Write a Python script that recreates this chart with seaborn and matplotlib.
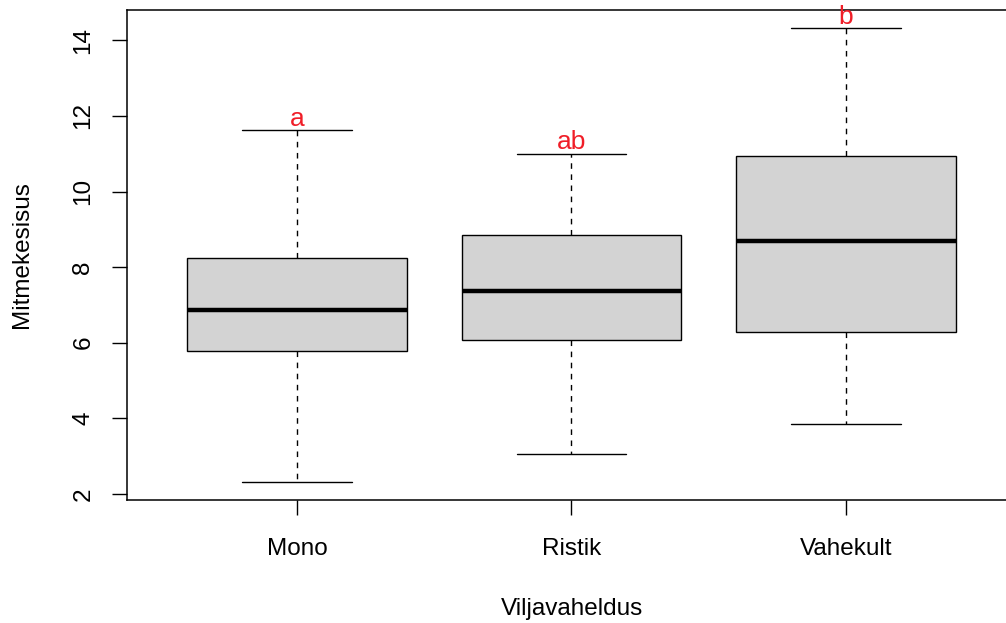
import numpy as np
import pandas as pd
import matplotlib
matplotlib.use("Agg")
import matplotlib.pyplot as plt
import seaborn as sns

# five-number summaries (min, Q1, median, Q3, max)
groups = ["Mono", "Ristik", "Vahekult"]
mono = [2.32, 5.79, 6.87, 8.25, 11.62]
ristik = [3.06, 6.08, 7.38, 8.86, 11.00]
vahekult = [3.85, 6.29, 8.70, 10.93, 14.32]
letters = ["a", "ab", "b"]
yticks = [2, 4, 6, 8, 10, 12, 14]

df = pd.DataFrame({
    "Viljavaheldus": np.repeat(groups, 5),
    "Mitmekesisus": mono + ristik + vahekult,
})

sns.set_theme(style="ticks")
plt.rcParams["font.family"] = ["Liberation Sans", "DejaVu Sans"]

fig = plt.figure(figsize=(10.06, 6.23), dpi=100)
ax = fig.add_axes([0.1262, 0.1974, 0.8837, 0.7865])

sns.boxplot(data=df, x="Viljavaheldus", y="Mitmekesisus", order=groups,
            color="#D3D3D3", saturation=1, linecolor="black", linewidth=1.0,
            width=0.8, whis=(0, 100), ax=ax,
            medianprops=dict(linewidth=3.2, color="black"),
            whiskerprops=dict(linestyle=(0, (4, 4)), linewidth=1.0, color="black"),
            capprops=dict(linewidth=1.0, color="black"))

# significance letters above the upper whiskers
tops = [max(mono), max(ristik), max(vahekult)]
for i, (lab, top) in enumerate(zip(letters, tops)):
    ax.text(i, top + 0.12, lab, ha="center", va="baseline", color="#F01E28",
            fontsize=19)

ax.set_xlim(-0.62, 2.62)
ax.set_ylim(1.84, 14.8)
ax.set_yticks(yticks)
ax.set_yticklabels([str(t) for t in yticks], rotation=90, va="center")

for sp in ax.spines.values():
    sp.set_visible(True)
    sp.set_color("black")
    sp.set_linewidth(1.1)

ax.tick_params(axis="both", length=11, width=1.0, labelsize=17.5,
               colors="black")
ax.tick_params(axis="x", pad=16.5)
ax.tick_params(axis="y", pad=12.5)
ax.set_xlabel("Viljavaheldus", fontsize=17.5, color="black")
ax.set_ylabel("Mitmekesisus", fontsize=17.5, color="black")
ax.xaxis.set_label_coords(0.5006, -0.2)
ax.xaxis.label.set_va("top")
ax.yaxis.set_label_coords(-0.106, 0.5)

fig.savefig("out.png", dpi=100)
